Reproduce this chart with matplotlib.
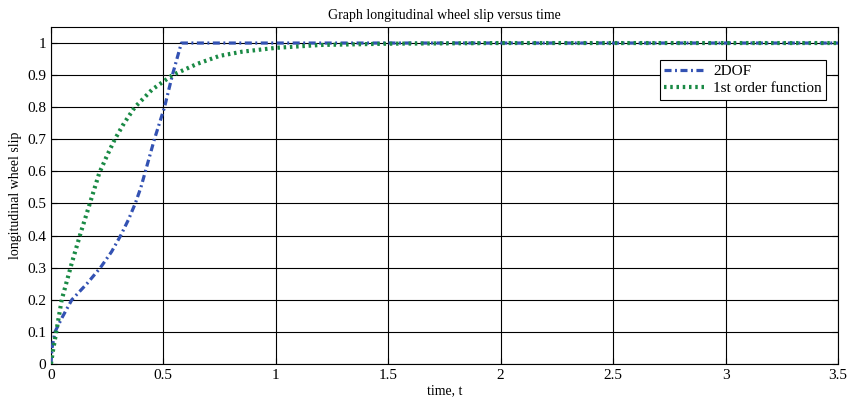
import matplotlib
matplotlib.use("Agg")
import matplotlib.pyplot as plt

# values
t_2dof = [0, 0.005, 0.018, 0.05, 0.093, 0.16, 0.22, 0.27, 0.31, 0.345, 0.375, 0.4, 0.42, 0.46, 0.505, 0.54, 0.58, 3.5]
s_2dof = [0, 0.05, 0.1, 0.145, 0.2, 0.25, 0.3, 0.35, 0.4, 0.45, 0.5, 0.55, 0.6, 0.7, 0.8, 0.9, 1.0, 1.0]

t_first = [0, 0.01, 0.02, 0.048, 0.093, 0.133, 0.173, 0.215, 0.25, 0.284, 0.325, 0.373, 0.45, 0.54,
           0.65, 0.75, 0.85, 1.0, 1.2, 1.5, 2.0, 3.5]
s_first = [0, 0.045, 0.085, 0.2, 0.315, 0.41, 0.5, 0.595, 0.65, 0.7, 0.75, 0.8, 0.855, 0.9,
           0.935, 0.96, 0.973, 0.985, 0.994, 0.998, 1.0, 1.0]

xticks = [0, 0.5, 1, 1.5, 2, 2.5, 3, 3.5]
yticks = [0, 0.1, 0.2, 0.3, 0.4, 0.5, 0.6, 0.7, 0.8, 0.9, 1]


def main():
    plt.rcParams['font.family'] = ['Liberation Serif', 'DejaVu Serif']
    plt.rcParams['font.size'] = 10

    fig = plt.figure(figsize=(8.49, 4.03), dpi=100)
    ax = fig.add_axes([0.060, 0.097, 0.927, 0.836])

    ax.plot(t_2dof, s_2dof, color='#3352b3', linestyle=(0, (2.2, 1.1, 0.6, 1.1)), linewidth=2.3,
            label='2DOF', zorder=3)
    ax.plot(t_first, s_first, color='#1a8a45', linestyle=(0, (0.6, 0.9)), linewidth=3.0,
            label='1st order function', zorder=3)

    ax.set_xlim(0, 3.5)
    ax.set_ylim(0, 1.05)
    ax.set_xticks(xticks)
    ax.set_xticklabels(['0', '0.5', '1', '1.5', '2', '2.5', '3', '3.5'])
    ax.set_yticks(yticks)
    ax.set_yticklabels(['0', '0.1', '0.2', '0.3', '0.4', '0.5', '0.6', '0.7', '0.8', '0.9', '1'])
    ax.tick_params(direction='in', length=4, width=0.8, top=True, right=True, labelsize=11)
    ax.grid(True, color='black', linewidth=0.8, linestyle='-')
    for sp in ax.spines.values():
        sp.set_linewidth(0.8)

    ax.set_title('Graph longitudinal wheel slip versus time', fontsize=10, pad=6)
    ax.set_xlabel('time, t', fontsize=10, labelpad=2)
    ax.set_ylabel('longitudinal wheel slip', fontsize=10, labelpad=4)

    leg = ax.legend(loc='upper right', bbox_to_anchor=(0.995, 0.925), fontsize=11,
                    fancybox=False, framealpha=1, edgecolor='black',
                    handlelength=2.6, borderpad=0.3, labelspacing=0.2, handletextpad=0.6)
    leg.get_frame().set_linewidth(0.8)

    fig.savefig('out.png', dpi=100)


if __name__ == "__main__":
    main()
